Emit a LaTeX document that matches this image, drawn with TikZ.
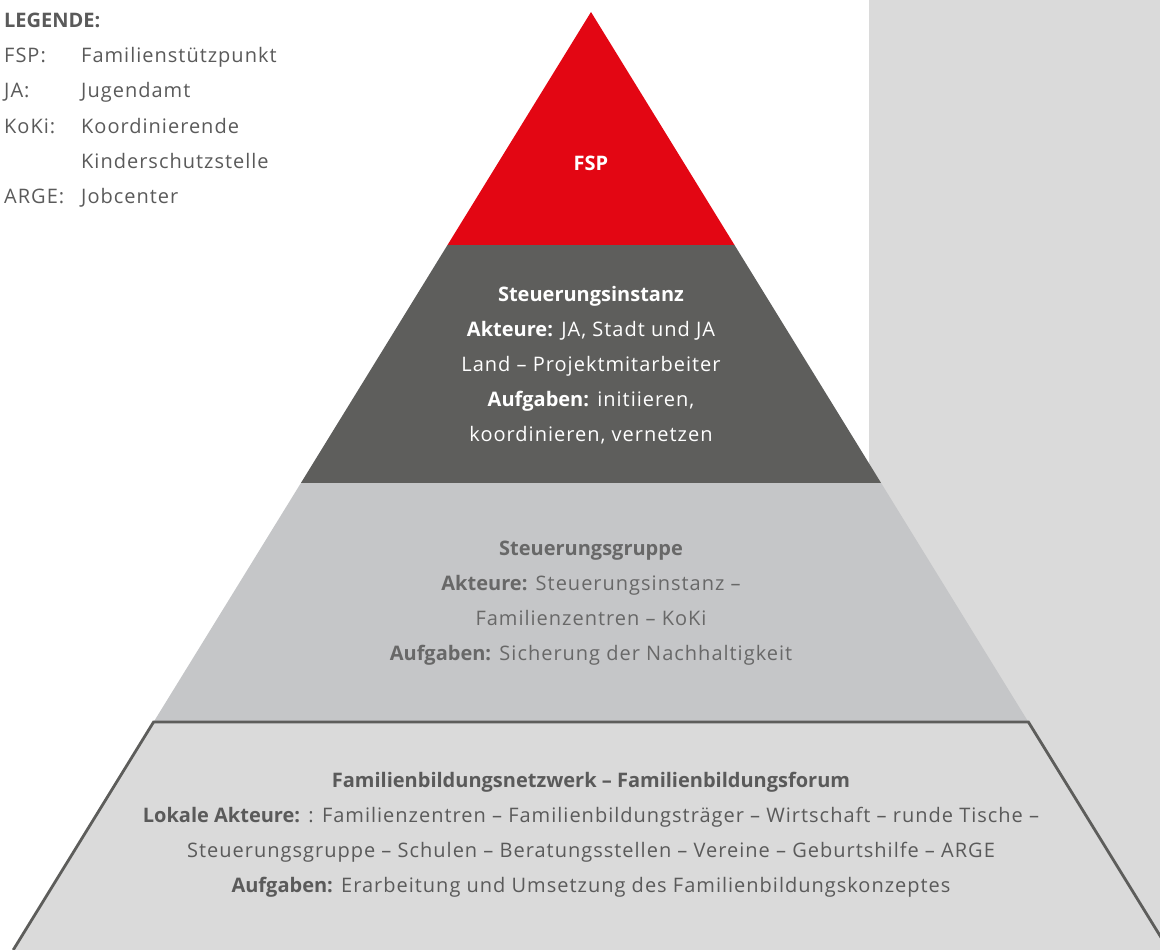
\documentclass[tikz,border=0pt]{standalone}
\usepackage{fontspec}
\setmainfont{Open Sans}[UprightFeatures={LetterSpace=5}, BoldFeatures={LetterSpace=0}]
\definecolor{fspred}{HTML}{E30613}
\definecolor{darkband}{HTML}{5E5E5C}
\definecolor{midband}{HTML}{C5C6C8}
\definecolor{lightband}{HTML}{DADADA}
\definecolor{txtgrey}{HTML}{5A5A5A}
\definecolor{midtxt}{HTML}{686868}
\definecolor{outline}{HTML}{5D5D5B}
\tikzset{
  legtxt/.style={anchor=base west, inner sep=0pt, text=txtgrey, font=\fontsize{20}{35}\selectfont},
  blocktxt/.style={align=center, inner sep=0pt, font=\fontsize{20}{35}\selectfont},
}
\begin{document}
\begin{tikzpicture}[x=1pt,y=-1pt]
\useasboundingbox (0,0) rectangle (1160,950);
\begin{scope}
\clip (0,0) rectangle (1160,950);
% grey side panel
\fill[lightband] (869,0) rectangle (1160,950);
% pyramid layers
\fill[fspred] (591,12) -- (734.5,245) -- (447.5,245) -- cycle;
\fill[darkband] (447.5,245) -- (734.5,245) -- (881.1,483) -- (300.9,483) -- cycle;
\fill[midband] (300.9,483) -- (881.1,483) -- (1028.4,722) -- (153.6,722) -- cycle;
\fill[lightband] (153.6,722) -- (1028.4,722) -- (1168.8,950) -- (13.2,950) -- cycle;
\draw[outline, line width=2.8pt, line join=miter] (13.2,950) -- (153.6,722) -- (1028.4,722) -- (1168.8,950);
\end{scope}
% legend
\node[legtxt, font=\fontsize{20}{35}\selectfont\bfseries] (leg) at (4,28) {LEGENDE:};
\node[legtxt] (k1) at (4,63) {FSP:};
\node[legtxt] (v1) at (81,63) {Familienstützpunkt};
\node[legtxt] (k2) at (4,98) {JA:};
\node[legtxt] (v2) at (81,98) {Jugendamt};
\node[legtxt] (k3) at (4,133) {KoKi:};
\node[legtxt] (v3) at (81,133) {Koordinierende};
\node[legtxt] (v3b) at (81,168) {Kinderschutzstelle};
\node[legtxt] (k4) at (4,203) {ARGE:};
\node[legtxt] (v4) at (81,203) {Jobcenter};
% block texts
\node[blocktxt, text=white, font=\fontsize{20}{35}\selectfont\bfseries] (fsp) at (591,163) {FSP};
\node[blocktxt, text=white] (inst) at (591,365) {\textbf{Steuerungsinstanz}\\\textbf{Akteure:} JA, Stadt und JA\\Land – Projektmitarbeiter\\\textbf{Aufgaben:} initiieren,\\koordinieren, vernetzen};
\node[blocktxt, text=midtxt] (grp) at (591,603) {\textbf{Steuerungsgruppe}\\\textbf{Akteure:} Steuerungsinstanz –\\Familienzentren – KoKi\\\textbf{Aufgaben:} Sicherung der Nachhaltigkeit};
\node[blocktxt, text=txtgrey] (net) at (591,835) {\textbf{Familienbildungsnetzwerk – Familienbildungsforum}\\\textbf{Lokale Akteure:} : Familienzentren – Familienbildungsträger – Wirtschaft – runde Tische –\\Steuerungsgruppe – Schulen – Beratungsstellen – Vereine – Geburtshilfe – ARGE\\\textbf{Aufgaben:} Erarbeitung und Umsetzung des Familienbildungskonzeptes};
\end{tikzpicture}
\end{document}
